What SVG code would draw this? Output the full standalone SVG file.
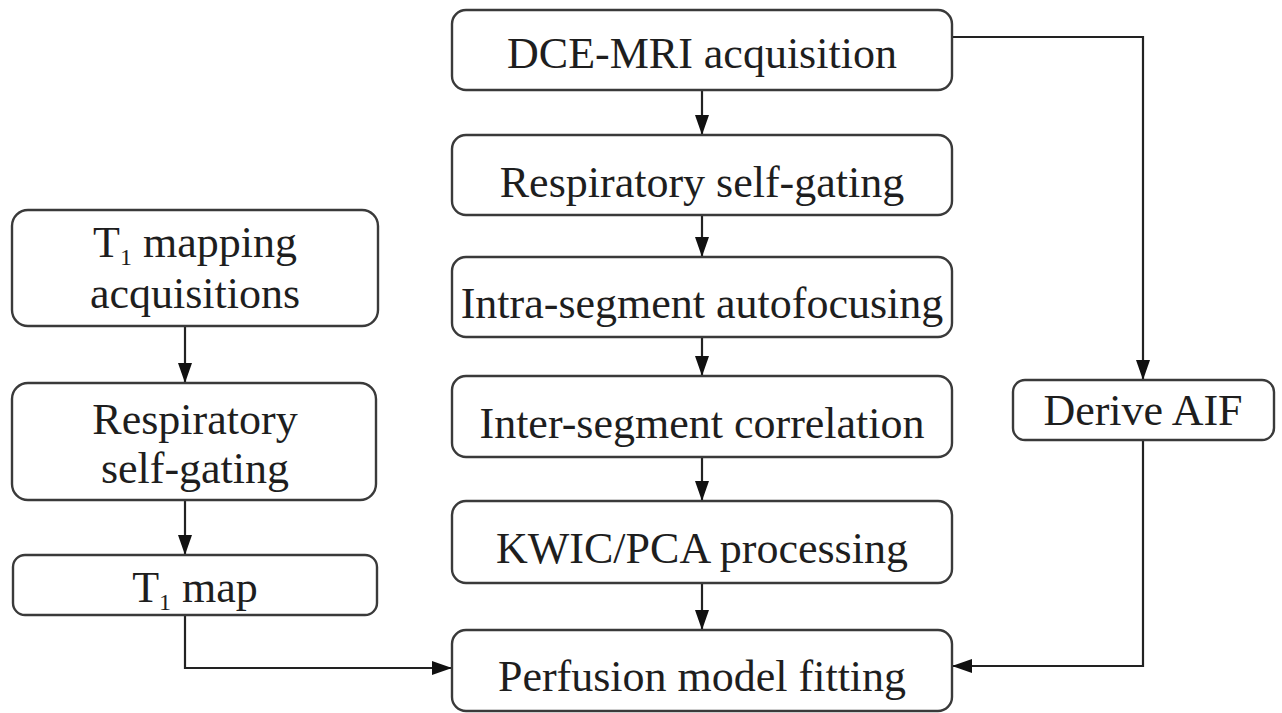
<svg xmlns="http://www.w3.org/2000/svg" width="1282" height="713" viewBox="0 0 1282 713">
  <style>
    .box { fill: #ffffff; stroke: #3a3a3a; stroke-width: 2.4; }
    .lbl { font-family: "Liberation Serif", "Times New Roman", serif; font-size: 44px; fill: #1e1e1e; text-anchor: middle; }
    .sub { font-size: 24px; }
    .wire { fill: none; stroke: #222; stroke-width: 2.2; }
  </style>
  <defs>
    <marker id="arrow" viewBox="0 0 20 14" refX="20" refY="7" markerWidth="20" markerHeight="14" markerUnits="userSpaceOnUse" orient="auto">
      <path d="M0,0 L20,7 L0,14 Z" fill="#111"/>
    </marker>
  </defs>
  <rect width="1282" height="713" fill="#ffffff"/>

  <!-- connectors -->
  <g id="connectors">
    <path class="wire" d="M702,90 V135" marker-end="url(#arrow)"/>
    <path class="wire" d="M702,215 V257" marker-end="url(#arrow)"/>
    <path class="wire" d="M702,337 V376" marker-end="url(#arrow)"/>
    <path class="wire" d="M702,457 V501" marker-end="url(#arrow)"/>
    <path class="wire" d="M702,583 V630" marker-end="url(#arrow)"/>
    <path class="wire" d="M185,326 V383" marker-end="url(#arrow)"/>
    <path class="wire" d="M185,500 V555" marker-end="url(#arrow)"/>
    <path class="wire" d="M185,615 V668 H452" marker-end="url(#arrow)"/>
    <path class="wire" d="M952,37 H1143 V380" marker-end="url(#arrow)"/>
    <path class="wire" d="M1143,440 V666 H952" marker-end="url(#arrow)"/>
  </g>

  <!-- central pipeline -->
  <g id="dce-mri">
    <rect class="box" x="452" y="10" width="500" height="80" rx="14"/>
    <text class="lbl" x="702" y="68">DCE-MRI acquisition</text>
  </g>
  <g id="resp-gating">
    <rect class="box" x="452" y="135" width="500" height="80" rx="14"/>
    <text class="lbl" x="702" y="197">Respiratory self-gating</text>
  </g>
  <g id="intra-segment">
    <rect class="box" x="452" y="257" width="500" height="80" rx="14"/>
    <text class="lbl" x="702" y="318">Intra-segment autofocusing</text>
  </g>
  <g id="inter-segment">
    <rect class="box" x="452" y="376" width="500" height="81" rx="14"/>
    <text class="lbl" x="702" y="438">Inter-segment correlation</text>
  </g>
  <g id="kwic-pca">
    <rect class="box" x="452" y="501" width="500" height="82" rx="14"/>
    <text class="lbl" x="702" y="563">KWIC/PCA processing</text>
  </g>
  <g id="perfusion">
    <rect class="box" x="452" y="630" width="500" height="81" rx="14"/>
    <text class="lbl" x="702" y="691">Perfusion model fitting</text>
  </g>

  <!-- T1 branch -->
  <g id="t1-acq">
    <rect class="box" x="12" y="210" width="366" height="116" rx="16"/>
    <text class="lbl" x="195" y="257">T<tspan class="sub" dy="8">1</tspan><tspan dy="-8"> mapping</tspan></text>
    <text class="lbl" x="195" y="308">acquisitions</text>
  </g>
  <g id="t1-gating">
    <rect class="box" x="12" y="383" width="364" height="117" rx="16"/>
    <text class="lbl" x="195" y="434">Respiratory</text>
    <text class="lbl" x="195" y="483">self-gating</text>
  </g>
  <g id="t1-map">
    <rect class="box" x="13" y="555" width="364" height="60" rx="12"/>
    <text class="lbl" x="195" y="602">T<tspan class="sub" dy="8">1</tspan><tspan dy="-8"> map</tspan></text>
  </g>

  <!-- AIF branch -->
  <g id="aif">
    <rect class="box" x="1013" y="380" width="261" height="60" rx="12"/>
    <text class="lbl" x="1143" y="425">Derive AIF</text>
  </g>
</svg>
